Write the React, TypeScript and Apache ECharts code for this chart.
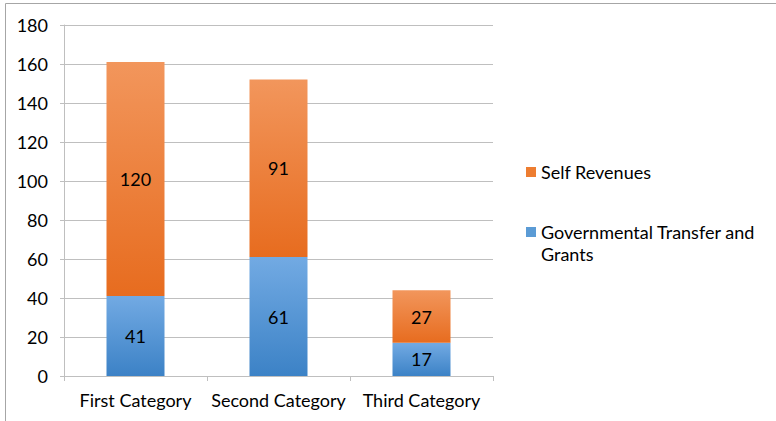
import React, { useEffect, useRef } from "react";
import * as echarts from "echarts";

const categories = ["First Category", "Second Category", "Third Category"];
const governmental = [41, 61, 17];
const selfRevenues = [120, 91, 27];
const yTicks = { min: 0, max: 180, interval: 20 };
const seriesNames = ["Governmental Transfer and Grants", "Self Revenues"];

const FONT = "Lato, 'Noto Sans', sans-serif";
const FS = 18;

export default function App() {
  const ref = useRef<HTMLDivElement>(null);
  useEffect(() => {
    if (!ref.current) return;
    const chart = echarts.init(ref.current, null, { renderer: "svg" });
    const orange = new echarts.graphic.LinearGradient(0, 0, 0, 1, [
      { offset: 0, color: "#F2965C" },
      { offset: 1, color: "#E76C1F" },
    ]);
    const blue = new echarts.graphic.LinearGradient(0, 0, 0, 1, [
      { offset: 0, color: "#72AAE3" },
      { offset: 1, color: "#3C82C6" },
    ]);
    chart.setOption({
      animation: false,
      backgroundColor: "#ffffff",
      textStyle: { fontFamily: FONT },
      grid: { left: 64, top: 25, right: 283, bottom: 45, containLabel: false },
      xAxis: {
        type: "category",
        data: categories,
        axisLine: { lineStyle: { color: "#BFBFBF" } },
        axisTick: { show: true, length: 5, lineStyle: { color: "#BFBFBF" } },
        axisLabel: { color: "#000", fontSize: FS, fontFamily: FONT, margin: 15, interval: 0 },
      },
      yAxis: {
        type: "value",
        min: yTicks.min,
        max: yTicks.max,
        interval: yTicks.interval,
        axisLine: { show: true, lineStyle: { color: "#BFBFBF" } },
        axisTick: { show: true, length: 4, lineStyle: { color: "#BFBFBF" } },
        splitLine: { lineStyle: { color: "#BFBFBF" } },
        axisLabel: { color: "#000", fontSize: FS, fontFamily: FONT, margin: 16 },
      },
      series: [
        {
          name: seriesNames[0],
          type: "bar",
          stack: "total",
          data: governmental,
          barWidth: 58,
          itemStyle: { color: blue },
          label: { show: true, position: "inside", color: "#000", fontSize: FS, fontFamily: FONT },
        },
        {
          name: seriesNames[1],
          type: "bar",
          stack: "total",
          data: selfRevenues,
          barWidth: 58,
          itemStyle: { color: orange },
          label: { show: true, position: "inside", color: "#000", fontSize: FS, fontFamily: FONT },
        },
      ],
      graphic: [
        {
          type: "rect",
          shape: { x: 5.5, y: 3.5, width: 900, height: 600 },
          style: { fill: "none", stroke: "#A6A6A6", lineWidth: 1 },
          silent: true,
          z: -1,
        },
        {
          type: "rect",
          shape: { x: 526, y: 167, width: 10, height: 10 },
          style: { fill: "#ED7D31" },
        },
        {
          type: "text",
          x: 541,
          y: 172,
          style: { text: seriesNames[1], fill: "#000", fontSize: FS, fontFamily: FONT, verticalAlign: "middle" },
        },
        {
          type: "rect",
          shape: { x: 526, y: 227, width: 10, height: 10 },
          style: { fill: "#5B9BD5" },
        },
        {
          type: "text",
          x: 541,
          y: 221,
          style: {
            text: "Governmental Transfer and\nGrants",
            fill: "#000",
            fontSize: FS,
            lineHeight: 22,
            fontFamily: FONT,
            verticalAlign: "top",
          },
        },
      ],
    });
    return () => chart.dispose();
  }, []);
  return (
    <div
      ref={ref}
      style={{ position: "absolute", left: 0, top: 0, width: 776, height: 421 }}
    />
  );
}
